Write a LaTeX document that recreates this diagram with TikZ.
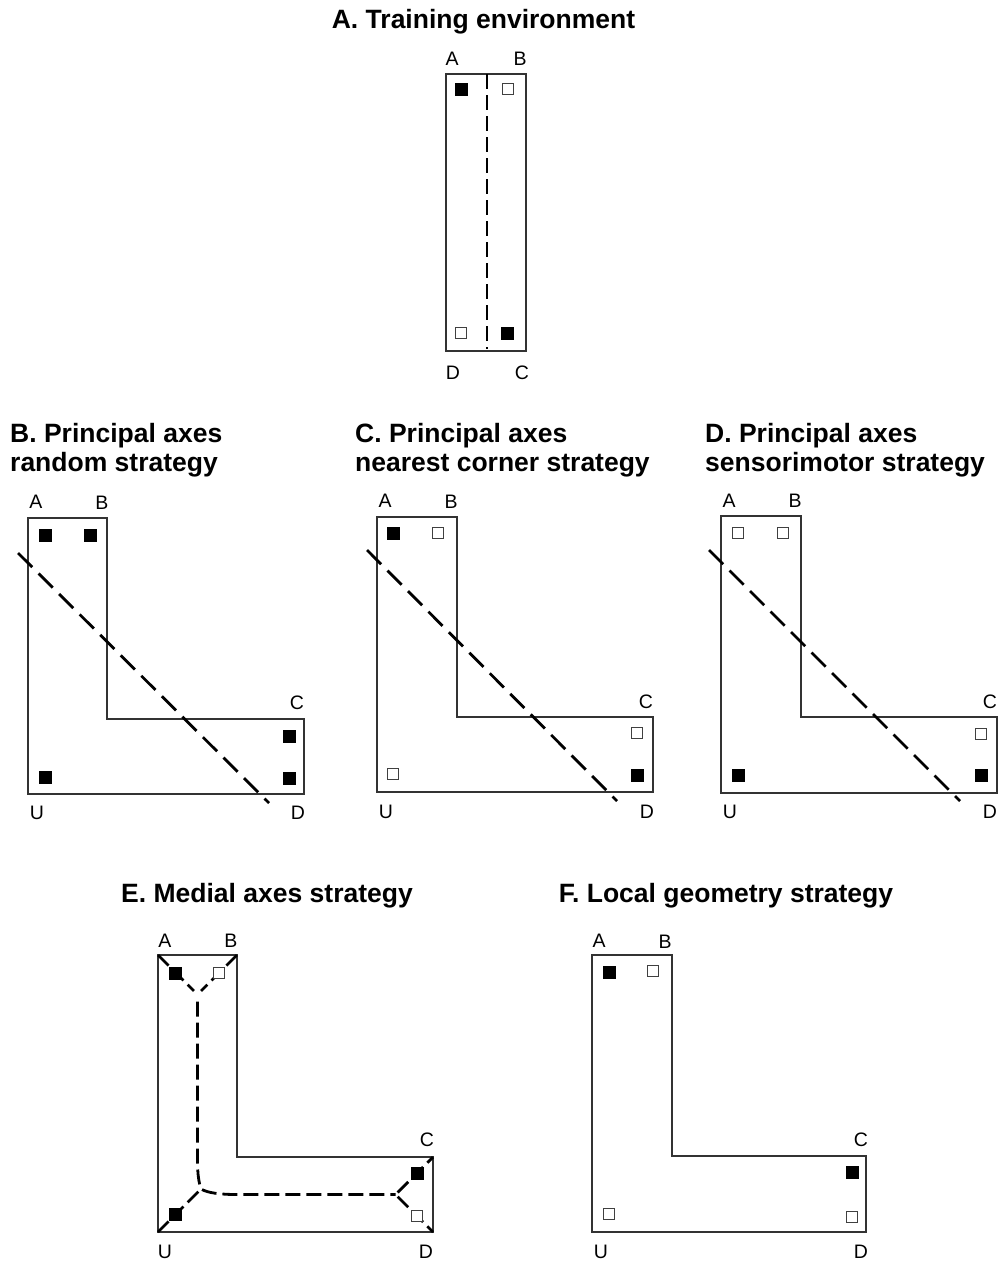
\documentclass[tikz,border=0pt]{standalone}
\usepackage{fontspec}
\setmainfont{Liberation Sans}
\usetikzlibrary{calc}

\begin{document}
\begin{tikzpicture}[x=1pt, y=-1pt,
    wall/.style={draw=black!80, line width=1.4pt, line join=miter},
    paxis/.style={line width=2.8pt, dash pattern=on 20pt off 9pt},
    maxis/.style={line width=2.8pt, dash pattern=on 15pt off 6pt},
    fullsq/.style={draw=black, fill=black, minimum size=12pt, inner sep=0pt},
    opensq/.style={draw=black!75, fill=white, line width=1.1pt, minimum size=11.5pt, inner sep=0pt},
    corner/.style={inner sep=0pt, font=\fontsize{19.5}{22}\selectfont},
    heading/.style={inner sep=0pt, align=left, font=\fontsize{26.5}{29.5}\selectfont\bfseries}
]
\useasboundingbox (0,0) rectangle (998,1263);

% A. training environment
\node[heading, anchor=base] (headA) at (483.5,29) {A. Training environment};
\draw[wall] (446,74) rectangle (526,351);
\coordinate (aTop) at (487,74);
\coordinate (aBot) at (487,349);
\draw[maxis] (aTop) -- (aBot);
\node[fullsq] (aSqA) at (461,89) {};
\node[opensq] (aSqB) at (508,89) {};
\node[fullsq] (aSqC) at (507,333) {};
\node[opensq] (aSqD) at (461,333) {};
\node[corner] (aLabA) at (452,59) {A};
\node[corner] (aLabB) at (520,59) {B};
\node[corner] (aLabD) at (453,373) {D};
\node[corner] (aLabC) at (522,373) {C};

% B. principal axes, random
\node[heading, anchor=north west] (headB) at (10,423) {B. Principal axes\\random strategy};
\draw[wall] (28,518) -- (107,518) -- (107,719) -- (304,719) -- (304,794) -- (28,794) -- cycle;
\coordinate (bStart) at (18,553);
\coordinate (bEnd) at (269,803);
\draw[paxis] (bStart) -- (bEnd);
\node[fullsq] (bSqA) at (45,535) {};
\node[fullsq] (bSqB) at (90,535) {};
\node[fullsq] (bSqC) at (289,736) {};
\node[fullsq] (bSqD) at (289,778) {};
\node[fullsq] (bSqU) at (45,777) {};
\node[corner] (bLabA) at (36,502) {A};
\node[corner] (bLabB) at (102,503) {B};
\node[corner] (bLabC) at (297,703) {C};
\node[corner] (bLabU) at (37,813) {U};
\node[corner] (bLabD) at (298,813) {D};

% C. principal axes, nearest corner
\node[heading, anchor=north west] (headC) at (355,423) {C. Principal axes\\nearest corner strategy};
\draw[wall] (377,517) -- (457,517) -- (457,717) -- (653,717) -- (653,792) -- (377,792) -- cycle;
\coordinate (cStart) at (367,550);
\coordinate (cEnd) at (617,801);
\draw[paxis] (cStart) -- (cEnd);
\node[fullsq] (cSqA) at (393,533) {};
\node[opensq] (cSqB) at (438,533) {};
\node[opensq] (cSqC) at (637,733) {};
\node[fullsq] (cSqD) at (637,775) {};
\node[opensq] (cSqU) at (393,774) {};
\node[corner] (cLabA) at (385,501) {A};
\node[corner] (cLabB) at (451,502) {B};
\node[corner] (cLabC) at (646,702) {C};
\node[corner] (cLabU) at (386,812) {U};
\node[corner] (cLabD) at (647,812) {D};

% D. principal axes, sensorimotor
\node[heading, anchor=north west] (headD) at (705,423) {D. Principal axes\\sensorimotor strategy};
\draw[wall] (721,516) -- (801,516) -- (801,717) -- (997,717) -- (997,793) -- (721,793) -- cycle;
\coordinate (dStart) at (709,550);
\coordinate (dEnd) at (960,801);
\draw[paxis] (dStart) -- (dEnd);
\node[opensq] (dSqA) at (738,533) {};
\node[opensq] (dSqB) at (783,533) {};
\node[opensq] (dSqC) at (981,734) {};
\node[fullsq] (dSqD) at (981,775) {};
\node[fullsq] (dSqU) at (738,775) {};
\node[corner] (dLabA) at (729,501) {A};
\node[corner] (dLabB) at (795,501) {B};
\node[corner] (dLabC) at (990,702) {C};
\node[corner] (dLabU) at (730,812) {U};
\node[corner] (dLabD) at (990,812) {D};

% E. medial axes
\node[heading, anchor=base] (headE) at (267,902) {E. Medial axes strategy};
\draw[wall] (158,955) -- (237,955) -- (237,1157) -- (433,1157) -- (433,1232) -- (158,1232) -- cycle;
\coordinate (eA) at (158,955);
\coordinate (eB) at (237,955);
\coordinate (eC) at (433,1157);
\coordinate (eD) at (433,1232);
\coordinate (eU) at (158,1232);
\coordinate (eTop) at (197.5,994.5);
\coordinate (eLeft) at (201,1189);
\coordinate (eRight) at (395.5,1194.5);
\draw[maxis, shorten >=5pt] (eA) -- (eTop);
\draw[maxis, shorten >=5pt] (eB) -- (eTop);
\draw[maxis, shorten >=3pt] (eU) -- (eLeft);
\draw[maxis, shorten <=3pt] (eRight) -- (eC);
\draw[maxis, shorten <=3pt] (eRight) -- (eD);
\draw[maxis] ($(eTop)+(0,7)$) -- (197.5,1160) .. controls (197.5,1175) and (199,1183) .. (eLeft)
    .. controls (208,1193) and (220,1194.5) .. (237,1194.5) -- (eRight);
\node[fullsq] (eSqA) at (175,973) {};
\node[opensq] (eSqB) at (219,973) {};
\node[fullsq] (eSqC) at (417,1173) {};
\node[opensq] (eSqD) at (417,1216) {};
\node[fullsq] (eSqU) at (175,1214) {};
\node[corner] (eLabA) at (165,941) {A};
\node[corner] (eLabB) at (231,941) {B};
\node[corner] (eLabC) at (427,1140) {C};
\node[corner] (eLabU) at (165,1252) {U};
\node[corner] (eLabD) at (426,1252) {D};

% F. local geometry
\node[heading, anchor=base] (headF) at (726,902) {F. Local geometry strategy};
\draw[wall] (592,955) -- (672,955) -- (672,1156) -- (866,1156) -- (866,1232) -- (592,1232) -- cycle;
\node[fullsq] (fSqA) at (609,972) {};
\node[opensq] (fSqB) at (653,971) {};
\node[fullsq] (fSqC) at (852,1172) {};
\node[opensq] (fSqD) at (852,1217) {};
\node[opensq] (fSqU) at (609,1214) {};
\node[corner] (fLabA) at (599,941) {A};
\node[corner] (fLabB) at (665,942) {B};
\node[corner] (fLabC) at (861,1140) {C};
\node[corner] (fLabU) at (601,1252) {U};
\node[corner] (fLabD) at (861,1252) {D};
\end{tikzpicture}
\end{document}
